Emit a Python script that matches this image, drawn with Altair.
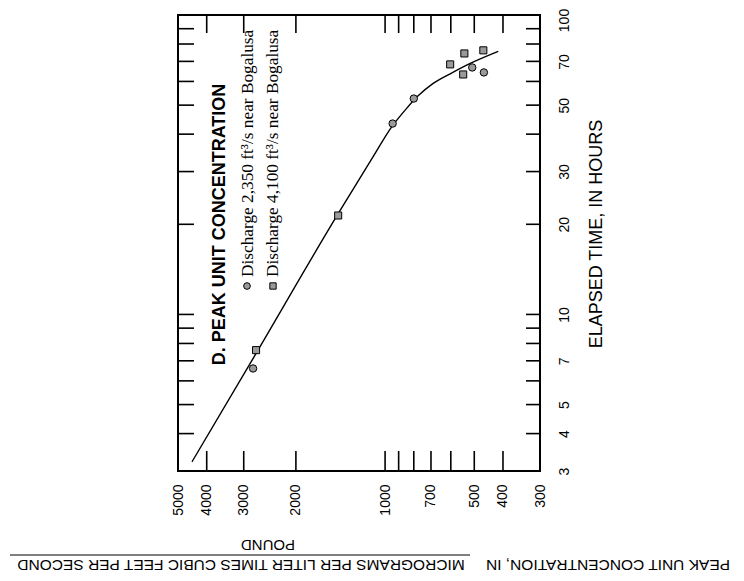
import altair as alt
import pandas as pd

# ---- data (axes are drawn rotated: concentration runs left->right reversed, time bottom->top)
circle_conc = [2790, 943, 800, 508, 464]
circle_time = [6.6, 43.4, 52.6, 66.8, 64.3]
square_conc = [2726, 1440, 603, 540, 545, 466]
square_time = [7.6, 21.4, 68.4, 74.4, 63.3, 76.2]
curve_conc = [4484, 2769, 1440, 1100, 950, 850, 775, 690, 603, 516, 415]
curve_time = [3.22, 7.22, 21.7, 33.5, 42.3, 48.5, 53.6, 59.0, 63.6, 68.9, 75.6]
conc_labels = [5000, 4000, 3000, 2000, 1000, 700, 500, 400, 300]
time_labels = [3, 4, 5, 7, 10, 20, 30, 50, 70, 100]
conc_ticks = [4000, 3000, 2000, 1000, 900, 800, 700, 600, 500, 400]
time_ticks = [4, 5, 6, 7, 8, 9, 10, 20, 30, 40, 50, 60, 70, 80, 90]

W, H = 362, 456
SANS = "Liberation Sans"
SERIF = "Liberation Serif"

xscale = alt.Scale(type="log", domain=[300, 5000], reverse=True, nice=False)
yscale = alt.Scale(type="log", domain=[3, 100], nice=False)
xaxis = alt.Axis(orient="bottom", values=conc_labels, format="d", labelAngle=270,
                 labelAlign="right", labelBaseline="middle", labelPadding=13,
                 labelFlush=False, labelOverlap=False, ticks=False, domain=False,
                 grid=False, title=None, labelFont=SANS, labelFontSize=14,
                 labelColor="black")
yaxis = alt.Axis(orient="right", values=time_labels, format="d", labelAngle=270,
                 labelAlign="center", labelBaseline="top", labelPadding=17,
                 labelOffset=alt.condition("datum.value == 100", alt.value(5), alt.value(0)),
                 labelFlush=False, labelOverlap=False, ticks=False, domain=False,
                 grid=False, title=None, labelFont=SANS, labelFontSize=14,
                 labelColor="black")
X = alt.X("conc:Q", scale=xscale, axis=xaxis)
Y = alt.Y("time:Q", scale=yscale, axis=yaxis)

circles = pd.DataFrame({"conc": circle_conc, "time": circle_time})
squares = pd.DataFrame({"conc": square_conc, "time": square_time})
curve = pd.DataFrame({"conc": curve_conc, "time": curve_time})
cticks = pd.DataFrame({"conc": conc_ticks})
tticks = pd.DataFrame({"time": time_ticks})

line = alt.Chart(curve).mark_line(color="black", strokeWidth=1.4, interpolate="monotone").encode(
    x=X, y=Y, order="time:Q")
pts_c = alt.Chart(circles).mark_point(shape="circle", filled=True, fill="#9a9a9a",
                                      stroke="black", strokeWidth=1, size=55, opacity=1).encode(x=X, y=Y)
pts_s = alt.Chart(squares).mark_point(shape="square", filled=True, fill="#9a9a9a",
                                      stroke="black", strokeWidth=1, size=50, opacity=1).encode(x=X, y=Y)

tick_bottom = alt.Chart(cticks).mark_rule(color="black", strokeWidth=1.6).encode(
    x=X, y=alt.value(H), y2=alt.value(H - 20))
tick_top = alt.Chart(cticks).mark_rule(color="black", strokeWidth=1.6).encode(
    x=X, y=alt.value(0), y2=alt.value(18))
tick_right = alt.Chart(tticks).mark_rule(color="black", strokeWidth=1.6).encode(
    y=Y, x=alt.value(W), x2=alt.value(W - 14))
tick_left = alt.Chart(tticks).mark_rule(color="black", strokeWidth=1.6).encode(
    y=Y, x=alt.value(0), x2=alt.value(16))


def label(txt, x, y, angle, size, font=SANS, weight="normal", align="center"):
    return alt.Chart(pd.DataFrame({"t": [txt]})).mark_text(
        angle=angle, align=align, baseline="middle", font=font, fontSize=size,
        fontWeight=weight, color="black").encode(x=alt.value(x), y=alt.value(y), text="t:N")


title = label("D. PEAK UNIT CONCENTRATION", 42, 209.5, 270, 18, weight="bold")
leg1 = label("Discharge 2,350 ft\u00b3/s near Bogalusa", 70, 262, 270, 17.3, font=SERIF, align="left")
leg2 = label("Discharge 4,100 ft\u00b3/s near Bogalusa", 94.5, 262, 270, 17.3, font=SERIF, align="left")
sym = pd.DataFrame({"k": ["c"]})
leg_c = alt.Chart(sym).mark_point(shape="circle", filled=True, fill="#9a9a9a", stroke="black",
                                  strokeWidth=1, size=45, opacity=1).encode(x=alt.value(69), y=alt.value(271))
leg_s = alt.Chart(sym).mark_point(shape="square", filled=True, fill="#9a9a9a", stroke="black",
                                  strokeWidth=1, size=40, opacity=1).encode(x=alt.value(95), y=alt.value(271))

xtitle = label("ELAPSED TIME, IN HOURS", 419, 219, 270, 18)
ytitle1 = label("PEAK UNIT CONCENTRATION, IN", 430, 550, 180, 15.5)
ytitle2 = label("MICROGRAMS PER LITER TIMES CUBIC FEET PER SECOND", 63, 550, 180, 15.5)
ytitle3 = label("POUND", 90, 530, 180, 15)
frac = alt.Chart(sym).mark_rule(color="black", strokeWidth=1).encode(
    x=alt.value(-168), x2=alt.value(292), y=alt.value(540))

chart = alt.layer(
    tick_bottom, tick_top, tick_right, tick_left, line, pts_c, pts_s,
    title, leg1, leg2, leg_c, leg_s, xtitle, ytitle1, ytitle2, ytitle3, frac
).properties(
    width=W, height=H,
    autosize=alt.AutoSizeParams(type="none"),
    padding={"left": 170, "top": 7, "right": 196, "bottom": 102},
).configure_view(stroke="black", strokeWidth=2).configure_axis(grid=False)

chart.save("out.html", embed_options={"renderer": "svg", "actions": False})
